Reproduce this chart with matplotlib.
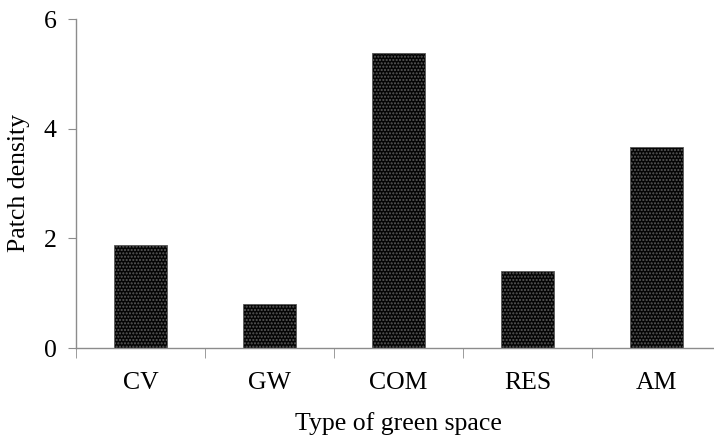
import matplotlib
matplotlib.use('Agg')
import matplotlib.pyplot as plt

categories = ['CV', 'GW', 'COM', 'RES', 'AM']
patch_density = [1.87, 0.80, 5.38, 1.40, 3.67]
y_ticks = [0, 2, 4, 6]

plt.rcParams['font.family'] = ['Liberation Serif', 'DejaVu Serif']
plt.rcParams['hatch.linewidth'] = 1.0

fig = plt.figure(figsize=(7.14, 4.44), dpi=100)
# axes runs slightly past the right edge, as in the original
ax = fig.add_axes([76 / 714, (444 - 348) / 444, (721 - 76) / 714, (348 - 19) / 444])

x = list(range(len(categories)))
ax.bar(x, patch_density, width=0.41, color='#050505', edgecolor='#5a5a5a',
       hatch='.....', linewidth=0.6)

ax.set_xlim(-0.5, len(categories) - 0.5)
ax.set_ylim(0, 6)
ax.set_yticks(y_ticks)
ax.set_xticks(x)
ax.set_xticklabels(categories)
ax.set_xticks([i - 0.5 for i in range(len(categories) + 1)], minor=True)

for side in ['top', 'right']:
    ax.spines[side].set_visible(False)
for side in ['left', 'bottom']:
    ax.spines[side].set_color('#8c8c8c')
    ax.spines[side].set_linewidth(1.0)

ax.tick_params(axis='y', length=6, color='#8c8c8c', labelsize=18.5, pad=8)
ax.tick_params(axis='x', which='major', length=0, labelsize=18.5, pad=17)
ax.tick_params(axis='x', which='minor', length=7, color='#8c8c8c')

ax.set_ylabel('Patch density', fontsize=18.5, labelpad=10)
ax.set_xlabel('Type of green space', fontsize=18.5, labelpad=13)

fig.savefig('out.png', dpi=100)
